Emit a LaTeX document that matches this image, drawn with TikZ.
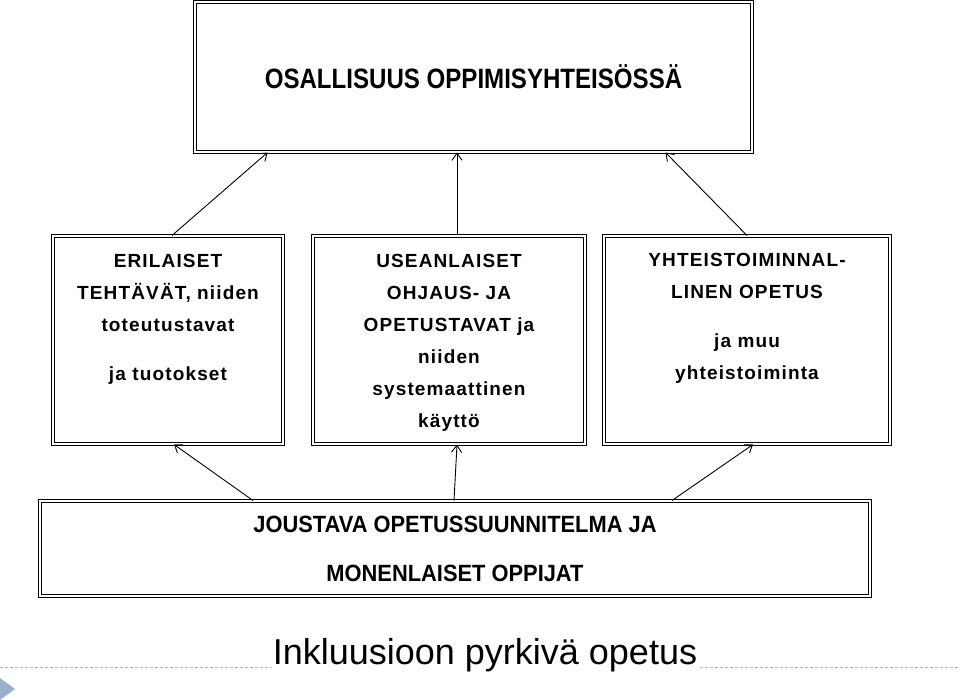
\documentclass[tikz,border=0pt]{standalone}
\usepackage{fontspec}
\setmainfont{Liberation Sans}
\newfontfamily\condfont[FakeStretch=0.86]{Liberation Sans}
\newfontfamily\widecondfont[FakeStretch=0.93]{Liberation Sans}
\newfontfamily\boxfont[LetterSpace=6]{Liberation Sans}
\usetikzlibrary{positioning}
\usetikzlibrary{arrows.meta}
\definecolor{slidegray}{HTML}{A9B9CD}
\definecolor{bulletblue}{HTML}{9AAFCB}

\tikzset{
  dblbox/.style={draw, double, line width=1pt, double distance=1.8pt, inner sep=0pt},
  boxtext/.style={inner sep=0pt, align=center, font=\boxfont\bfseries\fontsize{19}{32}\selectfont},
  uparrow/.style={line width=0.9pt, -{Straight Barb[length=7pt,width=10pt]}}
}

\begin{document}
\begin{tikzpicture}[x=1pt,y=-1pt]
  \useasboundingbox (0,0) rectangle (960,700);

  % Top box
  \node[dblbox, minimum width=557pt, minimum height=150pt,
        font=\condfont\bfseries\fontsize{28}{30}\selectfont]
    (osallisuus) at (473.5,77) {OSALLISUUS OPPIMISYHTEISÖSSÄ};

  % Middle row
  \node[dblbox, minimum width=230pt, minimum height=208pt] (tehtavat) at (168,340) {};
  \node[dblbox, minimum width=272pt, minimum height=208pt] (ohjaus) at (449,340) {};
  \node[dblbox, minimum width=286pt, minimum height=208pt] (yhteistoiminta) at (747,340) {};

  \node[boxtext, below=19pt of tehtavat.north] (tehtavattxt)
    {ERILAISET\\ TEHTÄVÄT, niiden\\ toteutustavat\\[17pt] ja tuotokset};
  \node[boxtext, below=19pt of ohjaus.north] (ohjaustxt)
    {USEANLAISET\\ OHJAUS- JA\\ OPETUSTAVAT ja\\ niiden\\ systemaattinen\\ käyttö};
  \node[boxtext, below=18pt of yhteistoiminta.north] (yhteistoimintatxt)
    {YHTEISTOIMINNAL-\\ LINEN OPETUS\\[17pt] ja muu\\ yhteistoiminta};

  % Bottom box
  \node[dblbox, minimum width=830pt, minimum height=95pt, align=center,
        font=\widecondfont\bfseries\fontsize{23.5}{49}\selectfont]
    (joustava) at (455,548.5) {JOUSTAVA OPETUSSUUNNITELMA JA\\ MONENLAISET OPPIJAT};

  % Arrows up to the top box
  \draw[uparrow] ([xshift=4pt]tehtavat.north) -- ([xshift=73pt]osallisuus.south west);
  \draw[uparrow] ([xshift=8pt]ohjaus.north) -- ([xshift=-16.5pt]osallisuus.south);
  \draw[uparrow] (yhteistoiminta.north) -- ([xshift=-87pt]osallisuus.south east);

  % Arrows up from the bottom box
  \draw[uparrow] ([xshift=-202pt]joustava.north) -- ([xshift=6pt]tehtavat.south);
  \draw[uparrow] ([xshift=-1pt]joustava.north) -- ([xshift=8pt]ohjaus.south);
  \draw[uparrow] ([xshift=217pt]joustava.north) -- ([xshift=6pt]yhteistoiminta.south);

  % Slide title
  \coordinate (ruleleft) at (0,667);
  \coordinate (ruleright) at (960,667);
  \draw[slidegray, line width=1pt, dash pattern=on 3pt off 2pt] (ruleleft) -- (ruleright);
  \node[anchor=base, fill=white, inner sep=1pt, font=\fontsize{36}{40}\selectfont]
    (inkluusio) at (485,664) {Inkluusioon pyrkivä opetus};

  % Bullet
  \fill[bulletblue] (0,678) -- (15,689) -- (0,700) -- cycle;
\end{tikzpicture}
\end{document}
